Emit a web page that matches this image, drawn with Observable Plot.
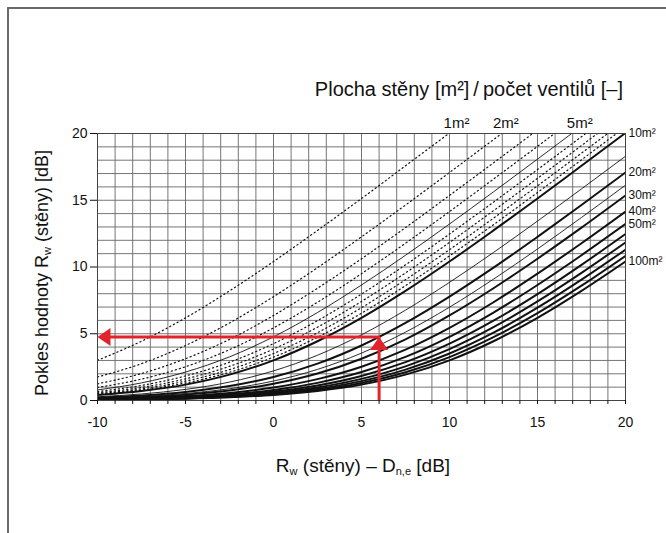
<!DOCTYPE html>
<html><head><meta charset="utf-8">
<script src="https://cdn.jsdelivr.net/npm/d3@7"></script>
<script src="https://cdn.jsdelivr.net/npm/@observablehq/plot@0.6"></script>
<style>
html,body{margin:0;padding:0;background:#fff;overflow:hidden;}
#wrap{position:relative;width:666px;height:533px;overflow:hidden;}
#chart{position:absolute;left:0;top:0;}
#border{position:absolute;left:7px;top:7px;width:720px;height:600px;border-top:2px solid #6a6a6a;border-left:2px solid #6a6a6a;pointer-events:none;}
</style></head>
<body><div id="wrap"><div id="chart"></div><div id="border"></div></div>
<script>
// x positions (R_w - D_n,e, dB)
const xs = [-10, -7.5, -5, -2.5, 0, 2.5, 5, 7.5, 10, 12.5, 15, 17.5, 20];

// wall area per ventilator (m²) and line style of each curve
const areas  = [1, 2, 3, 4, 5, 6, 7, 8, 9, 10, 15, 20, 25, 30, 40, 50, 60, 70, 80, 90, 100];
const styles = ["dot","dot","dot","dot","thin","dot","dot","dot","dot","thick","thin","thick","thin","thick","thick","thick","thick","thick","thick","thick","thick"];

// reduction of R_w (dB)
const s1   = [3.01, 4.44, 6.19, 8.21, 10.41, 12.74, 15.13, 17.58, 20.04, null, null, null, null];
const s2   = [1.76, 2.76, 4.12, 5.81, 7.78, 9.95, 12.26, 14.64, 17.08, 19.54, 22.02, null, null];
const s3   = [1.25, 2.02, 3.13, 4.58, 6.37, 8.41, 10.62, 12.95, 15.36, 17.80, 20.27, null, null];
const s4   = [0.97, 1.60, 2.53, 3.81, 5.44, 7.36, 9.50, 11.78, 14.15, 16.58, 19.04, 21.51, null];
const s5   = [0.79, 1.32, 2.13, 3.27, 4.77, 6.59, 8.65, 10.88, 13.22, 15.63, 18.08, 20.55, null];
const s6   = [0.67, 1.13, 1.84, 2.87, 4.26, 5.98, 7.97, 10.16, 12.47, 14.86, 17.30, 19.76, 22.25];
const s7   = [0.58, 0.98, 1.62, 2.56, 3.85, 5.49, 7.42, 9.56, 11.84, 14.22, 16.64, 19.10, 21.58];
const s8   = [0.51, 0.87, 1.45, 2.31, 3.52, 5.08, 6.95, 9.05, 11.30, 13.66, 16.08, 18.53, 21.00];
const s9   = [0.46, 0.78, 1.31, 2.11, 3.25, 4.74, 6.54, 8.60, 10.83, 13.17, 15.58, 18.03, 20.50];
const s10  = [0.41, 0.71, 1.19, 1.94, 3.01, 4.44, 6.19, 8.21, 10.41, 12.74, 15.13, 17.58, 20.04];
const s15  = [0.28, 0.49, 0.83, 1.38, 2.22, 3.39, 4.92, 6.77, 8.85, 11.09, 13.44, 15.85, 18.30];
const s20  = [0.21, 0.37, 0.64, 1.08, 1.76, 2.76, 4.12, 5.81, 7.78, 9.95, 12.26, 14.64, 17.08];
const s25  = [0.17, 0.30, 0.52, 0.88, 1.46, 2.33, 3.55, 5.12, 6.99, 9.09, 11.35, 13.71, 16.13];
const s30  = [0.14, 0.25, 0.44, 0.75, 1.25, 2.02, 3.13, 4.58, 6.37, 8.41, 10.62, 12.95, 15.36];
const s40  = [0.11, 0.19, 0.33, 0.57, 0.97, 1.60, 2.53, 3.81, 5.44, 7.36, 9.50, 11.78, 14.15];
const s50  = [0.09, 0.15, 0.27, 0.46, 0.79, 1.32, 2.13, 3.27, 4.77, 6.59, 8.65, 10.88, 13.22];
const s60  = [0.07, 0.13, 0.22, 0.39, 0.67, 1.13, 1.84, 2.87, 4.26, 5.98, 7.97, 10.16, 12.47];
const s70  = [0.06, 0.11, 0.19, 0.34, 0.58, 0.98, 1.62, 2.56, 3.85, 5.49, 7.42, 9.56, 11.84];
const s80  = [0.05, 0.10, 0.17, 0.30, 0.51, 0.87, 1.45, 2.31, 3.52, 5.08, 6.95, 9.05, 11.30];
const s90  = [0.05, 0.09, 0.15, 0.26, 0.46, 0.78, 1.31, 2.11, 3.25, 4.74, 6.54, 8.60, 10.83];
const s100 = [0.04, 0.08, 0.14, 0.24, 0.41, 0.71, 1.19, 1.94, 3.01, 4.44, 6.19, 8.21, 10.41];
const series = [s1, s2, s3, s4, s5, s6, s7, s8, s9, s10, s15, s20, s25, s30, s40, s50, s60, s70, s80, s90, s100];

// labels
const topLabels = ["1m²", "2m²", "5m²"];
const topLabelX = [10.4, 13.2, 17.4];
const rightLabelAreas = [10, 20, 30, 40, 50, 100];

// worked example (red arrows)
const exampleX = 6;
const exampleY = 4.75;

// tick values
const xTicks = d3.range(-10, 21, 1);
const yTicks = [0, 5, 10, 15, 20];
const xGrid = d3.range(-10, 21, 1);
const yGrid = d3.range(0, 21, 1);

const rows = areas.flatMap((a, i) => xs.map((x, j) => ({area: a, style: styles[i], x, y: series[i][j]})));
const rightLabels = rightLabelAreas.map(a => {
  const s = series[areas.indexOf(a)];
  return {label: a + "m²", x: xs[xs.length - 1], y: s[s.length - 1]};
});
const topLabelRows = topLabels.map((t, i) => ({label: t, x: topLabelX[i], y: 20}));

const red = "#e3232c";
const head = {draw(ctx) { ctx.moveTo(0, 0); ctx.lineTo(-9, 13); ctx.lineTo(9, 13); ctx.closePath(); }};

const font = "'Liberation Sans', Arial, Helvetica, sans-serif";

const svg = Plot.plot({
  width: 666, height: 533,
  marginLeft: 97, marginRight: 41, marginTop: 133, marginBottom: 133,
  style: {fontFamily: font, fontSize: "14px", color: "#111", background: "transparent"},
  x: {domain: [-10, 20]},
  y: {domain: [0, 20]},
  marks: [
    Plot.gridX(xGrid, {stroke: "#666", strokeOpacity: 1, strokeWidth: 0.9}),
    Plot.gridY(yGrid, {stroke: "#666", strokeOpacity: 1, strokeWidth: 0.9}),
    Plot.line(rows.filter(d => d.style === "dot"), {x: "x", y: "y", z: "area", curve: "monotone-x", stroke: "#111", strokeWidth: 1.2, strokeDasharray: "1.2,3", clip: true}),
    Plot.line(rows.filter(d => d.style === "thin"), {x: "x", y: "y", z: "area", curve: "monotone-x", stroke: "#111", strokeWidth: 0.9, clip: true}),
    Plot.line(rows.filter(d => d.style === "thick"), {x: "x", y: "y", z: "area", curve: "monotone-x", stroke: "#111", strokeWidth: 2, clip: true}),
    Plot.frame({stroke: "#444", strokeWidth: 1}),
    Plot.axisX({ticks: xTicks, tickSize: 4, tickPadding: 13, tickFormat: d => d % 5 === 0 ? String(d) : "", label: null, fontSize: 14}),
    Plot.axisY({ticks: yTicks, tickSize: 7, tickPadding: 3, tickFormat: d => String(d), label: null, fontSize: 14}),
    Plot.ruleX([exampleX], {y1: 0, y2: exampleY, stroke: red, strokeWidth: 3}),
    Plot.ruleY([exampleY], {x1: -9.4, x2: exampleX + 0.08, stroke: red, strokeWidth: 3}),
    Plot.dot([{x: exampleX, y: exampleY}], {x: "x", y: "y", symbol: head, r: 5, fill: red, stroke: null}),
    Plot.dot([{x: -10, y: exampleY}], {x: "x", y: "y", symbol: head, r: 5, fill: red, stroke: null, rotate: -90}),
    Plot.text(topLabelRows, {x: "x", y: "y", text: "label", dy: -10, fontSize: 15, fill: "#111"}),
    Plot.text(rightLabels, {x: "x", y: "y", text: "label", dx: 3, textAnchor: "start", fontSize: 12, fill: "#111"})
  ]
});

const g = d3.select(svg);
// title
g.append("text").attr("x", 623).attr("y", 96).attr("text-anchor", "end")
  .attr("font-family", font).attr("font-size", 20).attr("fill", "#111")
  .text("Plocha stěny [m²]\u2009/\u2009počet ventilů [–]");
// x label
const xl = g.append("text").attr("x", 363).attr("y", 472).attr("text-anchor", "middle")
  .attr("font-family", font).attr("font-size", 19).attr("fill", "#111");
xl.append("tspan").text("R");
xl.append("tspan").attr("font-size", 11).attr("dy", 3).text("w");
xl.append("tspan").attr("dy", -3).text(" (stěny) – D");
xl.append("tspan").attr("font-size", 11).attr("dy", 3).text("n,e");
xl.append("tspan").attr("dy", -3).text(" [dB]");
// y label
const yl = g.append("text").attr("transform", "translate(48,273) rotate(-90)").attr("text-anchor", "middle")
  .attr("font-family", font).attr("font-size", 18).attr("fill", "#111");
yl.append("tspan").text("Pokles hodnoty R");
yl.append("tspan").attr("font-size", 11).attr("dy", 3).text("w");
yl.append("tspan").attr("dy", -3).text(" (stěny) [dB]");

document.getElementById("chart").appendChild(svg);
</script>
</body></html>
